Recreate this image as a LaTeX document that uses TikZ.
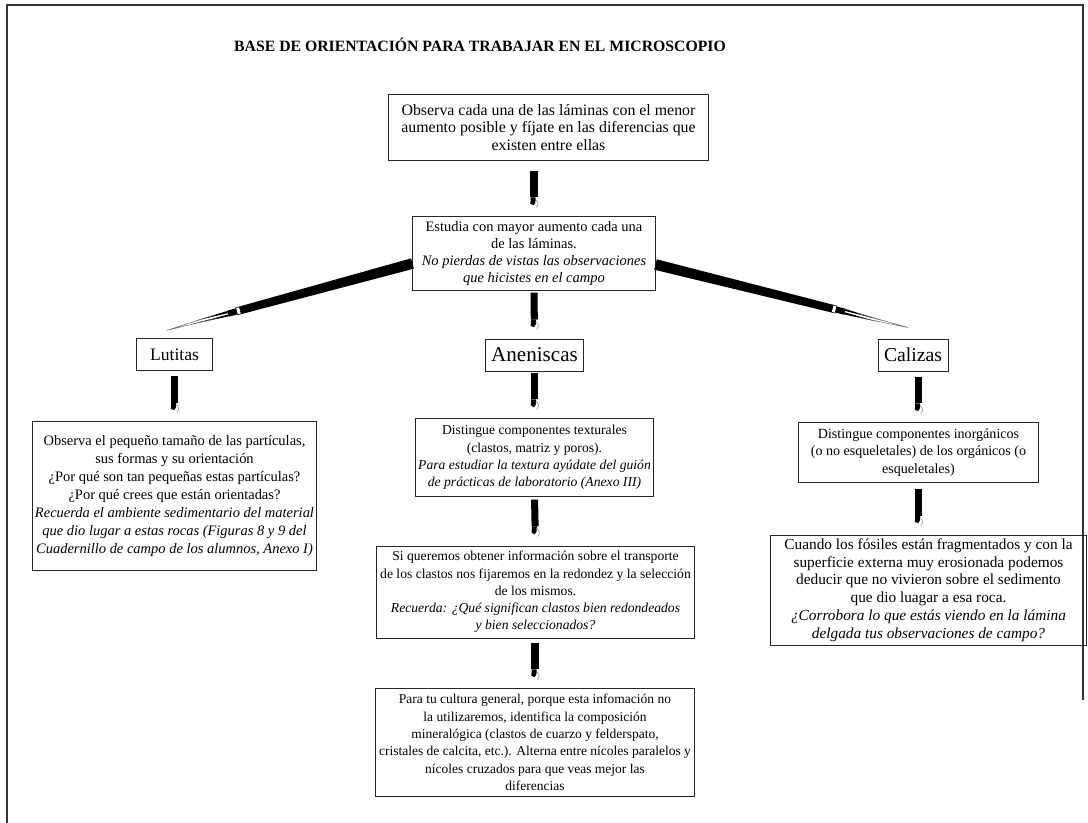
\documentclass[tikz,border=0pt]{standalone}
\usepackage{fontspec}
\setmainfont{Liberation Serif}
\usetikzlibrary{calc}

% length and angle of a pen between two points
\newcommand\pensize[2]{%
  \path let \p1=($(#2)-(#1)$) in \pgfextra{%
    \pgfmathsetmacro\penang{atan2(\y1,\x1)}\global\let\penang\penang
    \pgfmathsetmacro\penlen{veclen(\x1,\y1)}\global\let\penlen\penlen};}

% short pen between stacked boxes
\newcommand\penstub[2]{%
  \pensize{#1}{#2}%
  \begin{scope}[shift={(#1)}, rotate=\penang]
    \fill ({\penlen pt-32.6pt},-2.5pt) rectangle ({\penlen pt-13.5pt},2.5pt);
    \fill ({\penlen pt-13.5pt},-2.3pt) -- ({\penlen pt-13.5pt},1.2pt) -- ({\penlen pt-10pt},1pt)
      -- ({\penlen pt-8pt},-0.3pt) -- ({\penlen pt-9pt},-2.6pt) -- cycle;
    \draw[black!45, line width=0.4pt] ({\penlen pt-12pt},1.4pt) .. controls ({\penlen pt-9pt},3.4pt) .. ({\penlen pt-6.4pt},1.6pt);
  \end{scope}}

% long slanted pen
\newcommand\penlong[2]{%
  \pensize{#1}{#2}%
  \begin{scope}[shift={(#1)}, rotate=\penang]
    \fill (0pt,3.8pt) -- ({0.70*\penlen pt},2.8pt) -- ({0.70*\penlen pt},-2.8pt) -- (0pt,-3.8pt) -- cycle;
    \draw[line width=0.4pt] ({0.70*\penlen pt},2.6pt) rectangle ({0.715*\penlen pt},-2.6pt);
    \fill ({0.715*\penlen pt},2.2pt) rectangle ({0.75*\penlen pt},-2.2pt);
    \fill ({0.75*\penlen pt},2.0pt) -- ({0.90*\penlen pt},0.4pt) -- ({0.75*\penlen pt},0.6pt) -- cycle;
    \fill ({0.75*\penlen pt},-0.4pt) -- ({0.88*\penlen pt},-1.2pt) -- ({0.75*\penlen pt},-2.0pt) -- cycle;
    \draw[black!60, line width=0.35pt] ({0.80*\penlen pt},1.1pt) -- (\penlen pt,0pt) -- ({0.80*\penlen pt},-1.6pt);
  \end{scope}}

\begin{document}
\begin{tikzpicture}[
    x=0.025cm, y=-0.025cm,
    box/.style={draw=black!85, line width=0.7pt, align=center, inner sep=2pt},
    rock/.style={box, font=\fontsize{14}{16}\selectfont},
]
\useasboundingbox (0,0) rectangle (1088,823);
\draw[line width=1.1pt, black!80] (7,823) -- (7,5) -- (1083,5) -- (1083,700);

\node[font=\bfseries\fontsize{11.2}{13}\selectfont] (title) at (480,45) {BASE DE ORIENTACIÓN PARA TRABAJAR EN EL MICROSCOPIO};

\node[box, minimum width=7.98cm, minimum height=1.63cm, font=\fontsize{11.3}{12.3}\selectfont] (obs) at (548.5,127.5)
  {Observa cada una de las láminas con el menor\\aumento posible y fíjate en las diferencias que\\existen entre ellas};
\node[box, minimum width=6.05cm, minimum height=1.83cm, font=\fontsize{10.3}{12.2}\selectfont] (est) at (534,253.5)
  {Estudia con mayor aumento cada una\\de las láminas.\\\textit{No pierdas de vistas las observaciones}\\\textit{que hicistes en el campo}};

\node[rock, font=\fontsize{12.5}{14}\selectfont, minimum width=1.88cm, minimum height=0.78cm] (lut) at (174.5,354.5) {Lutitas};
\node[rock, font=\fontsize{15}{17}\selectfont, minimum width=2.43cm, minimum height=0.8cm] (ane) at (534.5,355) {Aneniscas};
\node[rock, minimum width=1.75cm, minimum height=0.8cm] (cal) at (913,355) {Calizas};

\node[box, minimum width=7.03cm, minimum height=3.7cm, font=\fontsize{10.3}{12.7}\selectfont] (lutobs) at (174.5,496)
  {Observa el pequeño tamaño de las partículas,\\sus formas y su orientación\\¿Por qué son tan pequeñas estas partículas?\\¿Por qué crees que están orientadas?\\
   \textit{Recuerda el ambiente sedimentario del material}\\\textit{que dio lugar a estas rocas (Figuras 8 y 9 del}\\\textit{Cuadernillo de campo de los alumnos, Anexo I)}};

\node[box, minimum width=5.83cm, minimum height=1.93cm, font=\fontsize{9.7}{12.4}\selectfont] (anetex) at (534.5,457.5)
  {Distingue componentes texturales\\(clastos, matriz y poros).\\\textit{Para estudiar la textura ayúdate del guión}\\\textit{de prácticas de laboratorio (Anexo III)}};
\node[box, minimum width=7.93cm, minimum height=2.3cm, font=\fontsize{9.7}{12.3}\selectfont] (anesel) at (535.5,592)
  {Si queremos obtener información sobre el transporte\\de los clastos nos fijaremos en la redondez y la selección\\de los mismos.\\
   \textit{Recuerda: ¿Qué significan clastos bien redondeados}\\\textit{y bien seleccionados?}};
\node[box, minimum width=7.95cm, minimum height=2.68cm, font=\fontsize{9.6}{12.4}\selectfont] (anemin) at (535,742.5)
  {Para tu cultura general, porque esta infomación no\\la utilizaremos, identifica la composición\\mineralógica (clastos de cuarzo y felderspato,\\
   cristales de calcita, etc.). Alterna entre nícoles paralelos y\\nícoles cruzados para que veas mejor las\\diferencias};

\node[box, minimum width=5.98cm, minimum height=1.48cm, font=\fontsize{10}{12.4}\selectfont] (calcom) at (918.5,452.5)
  {Distingue componentes inorgánicos\\(o no esqueletales) de los orgánicos (o\\esqueletales)};
\node[box, minimum width=7.88cm, minimum height=2.75cm, font=\fontsize{10.9}{12.6}\selectfont] (calfos) at (928.5,590)
  {Cuando los fósiles están fragmentados y con la\\superficie externa muy erosionada podemos\\deducir que no vivieron sobre el sedimento\\que dio luagar a esa roca.\\
   \textit{¿Corrobora lo que estás viendo en la lámina}\\\textit{delgada tus observaciones de campo?}};

\coordinate (estL) at ($(est.west)+(0,10)$);
\coordinate (estR) at ($(est.east)+(0,11)$);
\coordinate (lutpen) at ($(lut.north)+(-8,-8)$);
\coordinate (calpen) at ($(cal.north)+(-5,-11)$);
\penlong{estL}{lutpen}
\penlong{estR}{calpen}

\penstub{obs.south -| est.north}{est.north}
\penstub{est.south}{ane.north}
\penstub{lut.south}{lutobs.north}
\penstub{ane.south}{anetex.north}
\penstub{anetex.south}{anesel.north}
\penstub{anesel.south -| anemin.north}{anemin.north}
\penstub{cal.south -| calcom.north}{calcom.north}
\penstub{calcom.south}{calcom.south |- calfos.north}
\end{tikzpicture}
\end{document}
